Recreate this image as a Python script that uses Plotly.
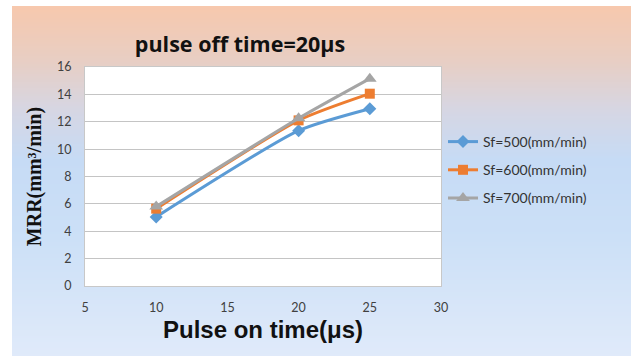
import plotly.graph_objects as go

# Pulse on time (µs) and MRR readings for each feed rate
pulse_on = [10, 20, 25]
sf500 = [5.05, 11.35, 12.95]
sf600 = [5.65, 12.1, 14.05]
sf700 = [5.8, 12.25, 15.15]

series_names = ["Sf=500(mm/min)", "Sf=600(mm/min)", "Sf=700(mm/min)"]
series_values = [sf500, sf600, sf700]
series_colors = ["#5b9bd5", "#ed7d31", "#a5a5a5"]
series_symbols = ["diamond", "square", "triangle-up"]
series_sizes = [10, 10, 12]

W, H = 631, 356
L, R, T, B = 85, 190, 67, 70
PW, PH = W - L - R, H - T - B


def px_to_paper_x(px):
    return (px - L) / PW


def px_to_paper_y(py):
    return (H - B - py) / PH


fig = go.Figure()

for name, vals, col, sym, sz, grp in zip(series_names, series_values, series_colors,
                                         series_symbols, series_sizes, ["a", "b", "c"]):
    fig.add_trace(go.Scatter(
        x=pulse_on, y=vals, name=name, mode="lines+markers",
        legendgroup=grp,
        line=dict(color=col, width=3, shape="spline", smoothing=0.6),
        marker=dict(symbol=sym, size=sz, color=col),
    ))

# Background: vertical peach-to-blue gradient panel
stops = [(6, (247, 200, 173)), (60, (232, 206, 195)), (110, (214, 214, 227)),
         (160, (198, 219, 245)), (240, (204, 224, 247)), (356, (224, 234, 250))]


def grad_color(py):
    for (y0, c0), (y1, c1) in zip(stops[:-1], stops[1:]):
        if y0 <= py <= y1:
            t = (py - y0) / (y1 - y0)
            return "rgb(%d,%d,%d)" % tuple(round(a + (b - a) * t) for a, b in zip(c0, c1))
    return "rgb(%d,%d,%d)" % stops[-1][1]


shapes = []
step = 2
y = 6
while y < 356:
    y2 = min(y + step, 356)
    shapes.append(dict(type="rect", xref="paper", yref="paper", layer="below",
                       x0=px_to_paper_x(12), x1=px_to_paper_x(W),
                       y0=px_to_paper_y(y2), y1=px_to_paper_y(y),
                       line=dict(width=0), fillcolor=grad_color((y + y2) / 2)))
    y = y2
# white plotting area
shapes.append(dict(type="rect", xref="paper", yref="paper", layer="below",
                   x0=0, x1=1, y0=0, y1=1, line=dict(width=0), fillcolor="white"))

tick_font = dict(family="Lato, Open Sans, sans-serif", size=12.5, color="#404040")

fig.update_layout(
    width=W, height=H,
    margin=dict(l=L, r=R, t=T, b=B),
    paper_bgcolor="white",
    plot_bgcolor="rgba(0,0,0,0)",
    shapes=shapes,
    title=dict(text="<b>pulse off time=20μs</b>", x=px_to_paper_x(240), xref="paper",
               xanchor="center", y=1 - 44 / H, yanchor="middle",
               font=dict(family="Open Sans, Lato, sans-serif", size=21.5, color="#111111")),
    xaxis=dict(range=[5, 30], dtick=5, tick0=5, showgrid=False, zeroline=False,
               showline=True, linecolor="#c8c8c8", linewidth=1, mirror=True,
               ticks="", ticklabelstandoff=10, tickfont=tick_font,
               title=dict(text="<b>Pulse on time(μs)</b>", standoff=7,
                          font=dict(family="Liberation Sans, Arial, sans-serif", size=24,
                                    color="#111111"))),
    yaxis=dict(range=[0, 16], dtick=2, showgrid=True, gridcolor="#c4c4c4", gridwidth=1,
               zeroline=False, showline=True, linecolor="#c8c8c8", linewidth=1, mirror=True,
               ticks="", ticklabelstandoff=10, tickfont=tick_font,
               title=dict(text="<b>MRR(mm³/min)</b>", standoff=10,
                          font=dict(family="Liberation Serif, Times New Roman, serif", size=20,
                                    color="#111111"))),
    legend=dict(x=px_to_paper_x(443), xanchor="left", y=px_to_paper_y(170), yanchor="middle",
                bgcolor="rgba(0,0,0,0)", tracegroupgap=7,
                font=dict(family="Lato, Open Sans, sans-serif", size=14, color="#333333")),
)

fig.write_html("out.html")
